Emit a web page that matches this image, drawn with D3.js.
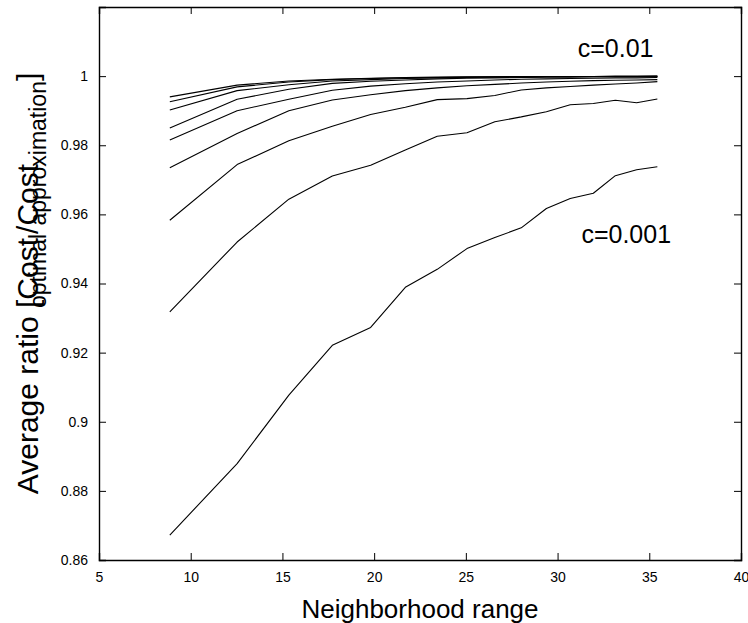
<!DOCTYPE html>
<html><head><meta charset="utf-8">
<script src="https://cdn.jsdelivr.net/npm/d3@7"></script>
<style>
body{margin:0;background:#fff}
text{font-family:"Liberation Sans",Arial,Helvetica,sans-serif}
</style>
</head><body>
<svg id="chart" width="748" height="623"></svg>
<script>
// Neighborhood range (x) sample points
const neighborhoodRange = [8.86, 12.53, 15.35, 17.72, 19.81, 21.70, 23.44, 25.06, 26.58, 28.02, 29.39, 30.69, 31.95, 33.15, 34.31, 35.44];
// Average ratio curves, from top (c=0.01) to bottom (c=0.001)
const curve1 = [0.9940, 0.9974, 0.9986, 0.9991, 0.9994, 0.9996, 0.9997, 0.9998, 0.9998, 0.9999, 0.9999, 0.9999, 0.9999, 1.0000, 1.0000, 1.0000];
const curve2 = [0.9926, 0.9969, 0.9983, 0.9990, 0.9993, 0.9995, 0.9996, 0.9997, 0.9998, 0.9998, 0.9999, 0.9999, 0.9999, 0.9999, 0.9999, 1.0000];
const curve3 = [0.9902, 0.9958, 0.9975, 0.9986, 0.9990, 0.9993, 0.9995, 0.9996, 0.9997, 0.9997, 0.9998, 0.9998, 0.9998, 0.9999, 0.9999, 0.9999];
const curve4 = [0.9850, 0.9933, 0.9962, 0.9979, 0.9985, 0.9989, 0.9992, 0.9994, 0.9995, 0.9996, 0.9997, 0.9997, 0.9998, 0.9998, 0.9998, 0.9998];
const curve5 = [0.9815, 0.9900, 0.9933, 0.9959, 0.9971, 0.9978, 0.9983, 0.9986, 0.9989, 0.9991, 0.9992, 0.9993, 0.9994, 0.9995, 0.9995, 0.9996];
const curve6 = [0.9735, 0.9834, 0.9900, 0.9931, 0.9946, 0.9958, 0.9966, 0.9972, 0.9976, 0.9980, 0.9983, 0.9985, 0.9987, 0.9988, 0.9989, 0.9990];
const curve7 = [0.9583, 0.9744, 0.9813, 0.9855, 0.9889, 0.9910, 0.9932, 0.9935, 0.9944, 0.9960, 0.9966, 0.9970, 0.9974, 0.9977, 0.9980, 0.9984];
const curve8 = [0.9318, 0.9520, 0.9644, 0.9711, 0.9742, 0.9786, 0.9826, 0.9836, 0.9868, 0.9882, 0.9897, 0.9917, 0.9921, 0.9930, 0.9923, 0.9934];
const curve9 = [0.8672, 0.8879, 0.9077, 0.9221, 0.9273, 0.9389, 0.9441, 0.9501, 0.9533, 0.9561, 0.9617, 0.9646, 0.9661, 0.9712, 0.9729, 0.9738];
const curves = [curve1, curve2, curve3, curve4, curve5, curve6, curve7, curve8, curve9];

const xTicks = [5, 10, 15, 20, 25, 30, 35, 40];
const yTicks = [0.86, 0.88, 0.9, 0.92, 0.94, 0.96, 0.98, 1];
const xDomain = [5, 40];
const yDomain = [0.86, 1.02];
const annotations = [
  {text: "c=0.01", x: 31.1, y: 1.0055},
  {text: "c=0.001", x: 31.3, y: 0.9518}
];
const xLabel = "Neighborhood range";
// y label pieces: main text and subscripts
const yLabelParts = [
  {main: "Average ratio ", sub: null},
  {main: "[Cost", sub: "optimal"},
  {main: "/", sub: null},
  {main: "Cost", sub: "approximation"},
  {main: "]", sub: null}
];

const svg = d3.select("#chart");
const mL = 99, mR = 741, mT = 7, mB = 560;
const x = d3.scaleLinear().domain(xDomain).range([mL, mR]);
const y = d3.scaleLinear().domain(yDomain).range([mB, mT]);
const tickLen = 7;

// Curves
const line = d3.line().x((d, i) => x(neighborhoodRange[i])).y(d => y(d));
svg.append("g").selectAll("path").data(curves).join("path")
  .attr("d", line).attr("fill", "none").attr("stroke", "#000").attr("stroke-width", 1.1)
  .attr("stroke-linejoin", "round");

// Axes
const fmt = d => String(+d.toFixed(2));
const axB = svg.append("g").attr("transform", `translate(0,${mB})`)
  .call(d3.axisBottom(x).tickValues(xTicks).tickSize(-tickLen).tickPadding(tickLen + 5).tickFormat(fmt));
const axL = svg.append("g").attr("transform", `translate(${mL},0)`)
  .call(d3.axisLeft(y).tickValues(yTicks).tickSize(-tickLen).tickPadding(tickLen + 4).tickFormat(fmt));
const axT = svg.append("g").attr("transform", `translate(0,${mT})`)
  .call(d3.axisTop(x).tickValues(xTicks).tickSize(-tickLen).tickFormat(""));
const axR = svg.append("g").attr("transform", `translate(${mR},0)`)
  .call(d3.axisRight(y).tickValues(yTicks).tickSize(-tickLen).tickFormat(""));
[axB, axL, axT, axR].forEach(g => {
  g.select(".domain").attr("stroke", "#000").attr("stroke-width", 1.4);
  g.selectAll(".tick line").attr("stroke", "#000").attr("stroke-width", 1);
  g.selectAll(".tick text").attr("fill", "#000").style("font-size", "14px")
    .style("font-family", '"Liberation Sans",Arial,sans-serif');
});
axB.selectAll(".tick line").filter(d => d === 5 || d === 40).remove();
axT.selectAll(".tick line").filter(d => d === 5 || d === 40).remove();
axL.selectAll(".tick line").filter(d => d === 0.86).remove();
axR.selectAll(".tick line").filter(d => d === 0.86).remove();

// Annotations
svg.append("g").selectAll("text").data(annotations).join("text")
  .attr("x", d => x(d.x)).attr("y", d => y(d.y))
  .style("font-size", "25px").attr("fill", "#000").text(d => d.text);

// Axis titles
svg.append("text").attr("x", (mL + mR) / 2).attr("y", 618).attr("text-anchor", "middle")
  .style("font-size", "26px").text(xLabel);

// Y label: rotated, centred on the plot; subscripts start where their word starts
const mainSize = 30, subSize = 23, subShift = 8;
const ylg = svg.append("g").attr("transform", `translate(38,${(mT + mB) / 2}) rotate(-90)`);
let u = 0;
const placed = [];
yLabelParts.forEach(p => {
  const tm = ylg.append("text").attr("x", u).attr("y", 0).style("font-size", mainSize + "px")
    .style("white-space", "pre").attr("xml:space", "preserve").text(p.main);
  let w = tm.node().getComputedTextLength();
  placed.push(tm);
  if (p.sub) {
    const ts = ylg.append("text").attr("x", u).attr("y", subShift).style("font-size", subSize + "px").text(p.sub);
    placed.push(ts);
    w = Math.max(w, ts.node().getComputedTextLength());
  }
  u += w;
});
placed.forEach(t => t.attr("x", +t.attr("x") - u / 2));
</script>
</body></html>
